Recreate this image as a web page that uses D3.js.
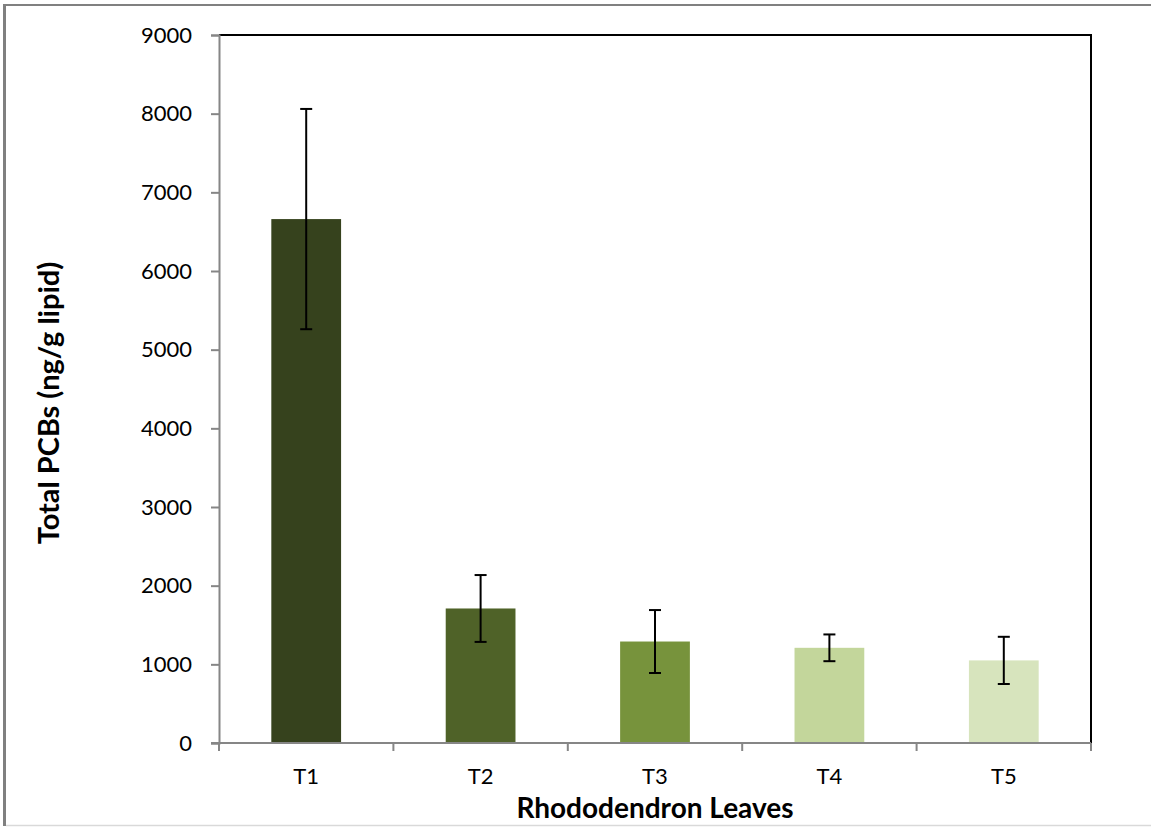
<!DOCTYPE html>
<html>
<head>
<meta charset="utf-8">
<script src="https://cdn.jsdelivr.net/npm/d3@7"></script>
<style>
  html, body { margin: 0; padding: 0; background: #fff; }
  svg { display: block; }
  text { font-family: Lato, "Open Sans", sans-serif; fill: #000; }
</style>
</head>
<body>
<svg id="chart" width="1151" height="827"></svg>
<script>
// Total PCBs measured in rhododendron leaves per treatment site
const categories = ["T1", "T2", "T3", "T4", "T5"];
const meanValues = [6660, 1710, 1290, 1210, 1050];
const errorValues = [1400, 425, 400, 170, 300];
const barColors = ["#36421d", "#4f6228", "#77933c", "#c3d69b", "#d7e4bd"];
const yTicks = [0, 1000, 2000, 3000, 4000, 5000, 6000, 7000, 8000, 9000];

const svg = d3.select("#chart");
const W = 1151, H = 827;
const plot = { left: 219, top: 35, right: 1091, bottom: 743 };

// outer frame of the figure
svg.append("line").attr("x1", 4.5).attr("x2", 4.5).attr("y1", 4).attr("y2", 826)
  .attr("stroke", "#808080").attr("stroke-width", 3);
svg.append("line").attr("x1", 3).attr("x2", W).attr("y1", 5).attr("y2", 5)
  .attr("stroke", "#808080").attr("stroke-width", 2);
svg.append("line").attr("x1", 6).attr("x2", W).attr("y1", 825.5).attr("y2", 825.5)
  .attr("stroke", "#d9d9d9").attr("stroke-width", 1.5);

const x = d3.scaleBand().domain(categories)
  .range([plot.left, plot.right]).paddingInner(0.6).paddingOuter(0.3);
const xOuter = d3.scaleBand().domain(categories).range([plot.left, plot.right]);
const y = d3.scaleLinear().domain([0, 9000]).range([plot.bottom, plot.top]);

// plot area frame (top and right edges)
svg.append("path")
  .attr("d", `M${plot.left},${plot.top}H${plot.right}V${plot.bottom}`)
  .attr("fill", "none").attr("stroke", "#000").attr("stroke-width", 2);

// bars
svg.append("g").selectAll("rect").data(categories).join("rect")
  .attr("x", d => x(d))
  .attr("width", x.bandwidth())
  .attr("y", (d, i) => y(meanValues[i]))
  .attr("height", (d, i) => y(0) - y(meanValues[i]))
  .attr("fill", (d, i) => barColors[i]);

// error bars
const eb = svg.append("g").attr("stroke", "#000").attr("stroke-width", 2);
categories.forEach((c, i) => {
  const cx = x(c) + x.bandwidth() / 2;
  const hi = y(meanValues[i] + errorValues[i]);
  const lo = y(meanValues[i] - errorValues[i]);
  eb.append("line").attr("x1", cx).attr("x2", cx).attr("y1", hi).attr("y2", lo);
  eb.append("line").attr("x1", cx - 6).attr("x2", cx + 6).attr("y1", hi).attr("y2", hi);
  eb.append("line").attr("x1", cx - 6).attr("x2", cx + 6).attr("y1", lo).attr("y2", lo);
});

// y axis
const yAxis = svg.append("g").attr("transform", `translate(${plot.left},0)`)
  .call(d3.axisLeft(y).tickValues(yTicks).tickSize(8).tickPadding(19).tickFormat(d3.format("d")));
yAxis.select(".domain").attr("stroke", "#868686").attr("stroke-width", 2);
yAxis.selectAll(".tick line").attr("stroke", "#868686").attr("stroke-width", 2);
yAxis.selectAll(".tick text").attr("font-family", "Lato, sans-serif").attr("font-size", 22).attr("fill", "#000");

// x axis with ticks at category boundaries
const xAxis = svg.append("g").attr("transform", `translate(0,${plot.bottom})`);
xAxis.append("line").attr("x1", plot.left - 8).attr("x2", plot.right)
  .attr("y1", 0).attr("y2", 0).attr("stroke", "#868686").attr("stroke-width", 2);
const boundaries = categories.map(c => xOuter(c)).concat([plot.right]);
xAxis.selectAll("line.tk").data(boundaries).join("line").attr("class", "tk")
  .attr("x1", d => d).attr("x2", d => d).attr("y1", 0).attr("y2", 8)
  .attr("stroke", "#868686").attr("stroke-width", 2);
xAxis.selectAll("text").data(categories).join("text")
  .attr("x", d => xOuter(d) + xOuter.bandwidth() / 2)
  .attr("y", 41)
  .attr("text-anchor", "middle")
  .attr("font-size", 22)
  .text(d => d);

// axis titles
svg.append("text")
  .attr("x", (plot.left + plot.right) / 2)
  .attr("y", 818)
  .attr("text-anchor", "middle")
  .attr("font-size", 28).attr("font-weight", "bold")
  .text("Rhododendron Leaves");

svg.append("text")
  .attr("transform", `translate(59,${(plot.top + plot.bottom) / 2 + 14}) rotate(-90)`)
  .attr("text-anchor", "middle")
  .attr("font-size", 29).attr("font-weight", "bold")
  .text("Total PCBs (ng/g lipid)");
</script>
</body>
</html>
